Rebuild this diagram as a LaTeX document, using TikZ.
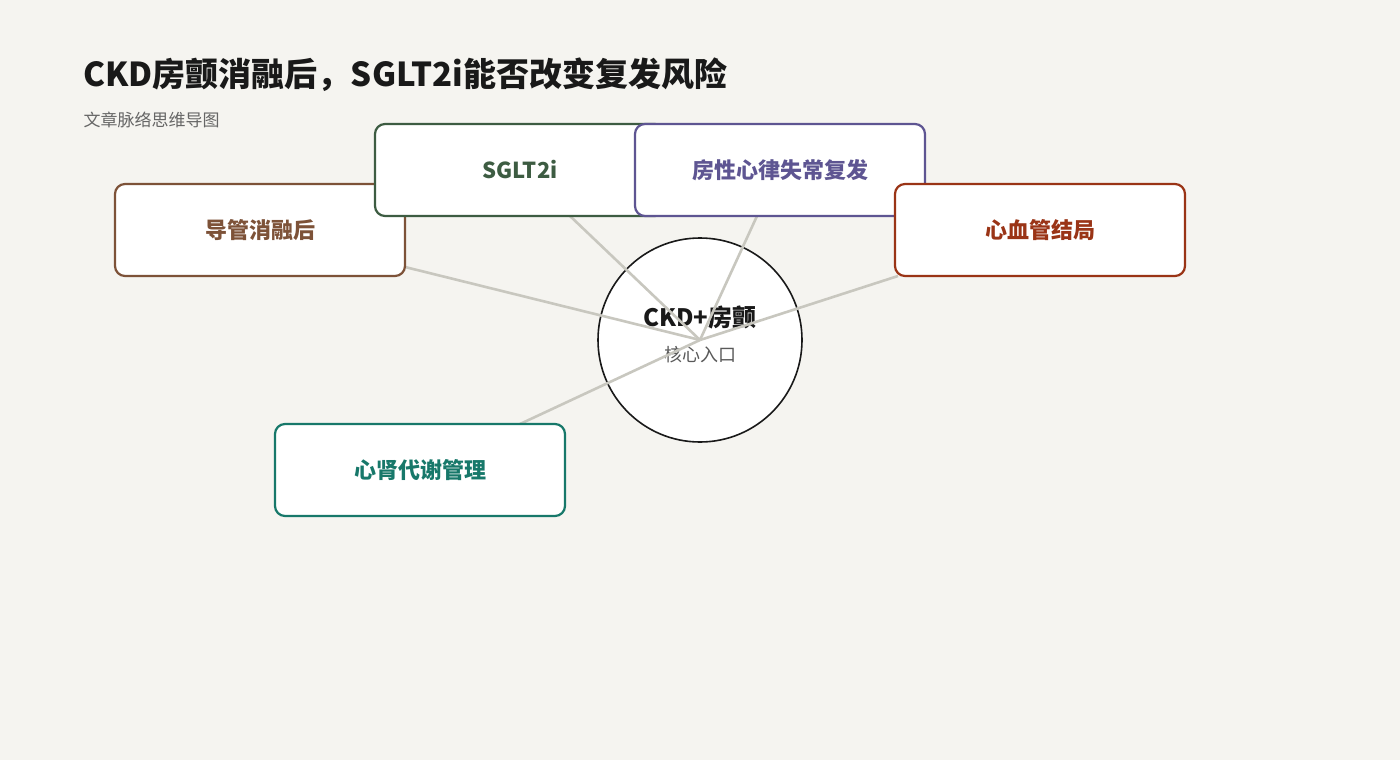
\documentclass[tikz,border=0pt]{standalone}
\usepackage{fontspec}
\setmainfont{Noto Sans CJK SC}
\definecolor{bg}{HTML}{F5F4F0}
\definecolor{ln}{HTML}{C8C7BF}
\definecolor{cbrown}{HTML}{7D5238}
\definecolor{cgreen}{HTML}{3D5C42}
\definecolor{cpurple}{HTML}{5E5592}
\definecolor{cred}{HTML}{9A3416}
\definecolor{cteal}{HTML}{17786A}
\begin{document}
\begin{tikzpicture}[x=1pt,y=-1pt,
  box/.style={draw=#1,line width=2.2pt,fill=white,rounded corners=10pt,minimum width=290pt,minimum height=92pt,text=#1,font=\fontsize{22}{26}\selectfont\bfseries},
  link/.style={draw=ln,line width=2.6pt}]
\fill[bg] (0,0) rectangle (1400,760);
\useasboundingbox (0,0) rectangle (1400,760);
\node[anchor=base west,font=\fontsize{33}{38}\selectfont\bfseries,text=black!90] (title) at (80,86) {CKD房颤消融后，SGLT2i能否改变复发风险};
\node[anchor=base west,font=\fontsize{17}{20}\selectfont,text=black!60] (sub) at (80,126) {文章脉络思维导图};
\node[circle,draw=black!90,line width=1.6pt,fill=white,minimum size=204pt] (c) at (700,340) {};
\node[font=\fontsize{24}{28}\selectfont\bfseries,text=black!90] (ct) at (700,317) {CKD+房颤};
\node[font=\fontsize{18}{22}\selectfont,text=black!65] (cs) at (700,355) {核心入口};
\coordinate (o) at (700,340);
\coordinate (e1) at (405,267);
\coordinate (e2) at (570,216);
\coordinate (e3) at (757,216);
\coordinate (e4) at (898,276);
\coordinate (e5) at (520,424);
\foreach \e in {e1,e2,e3,e4,e5} \draw[link] (o) -- (\e);
\node[box=cbrown] (b1) at (260,230) {导管消融后};
\node[box=cgreen] (b2) at (520,170) {SGLT2i};
\node[box=cpurple] (b3) at (780,170) {房性心律失常复发};
\node[box=cred] (b4) at (1040,230) {心血管结局};
\node[box=cteal] (b5) at (420,470) {心肾代谢管理};
\end{tikzpicture}
\end{document}
